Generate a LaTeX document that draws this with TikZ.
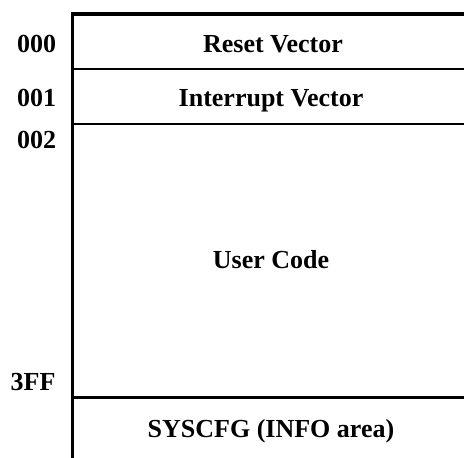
\documentclass[tikz,border=0pt]{standalone}
\usepackage{fontspec}
\setmainfont{Liberation Serif}
\begin{document}
\begin{tikzpicture}[x=1pt,y=-1pt,
  lbl/.style={anchor=base,inner sep=0pt,font=\fontsize{26}{30}\selectfont\bfseries},
  thick line/.style={line width=3.5pt},
  thin line/.style={line width=2pt}]
\useasboundingbox (0,0) rectangle (464,458);
\coordinate (vt) at (72.7,12);
\coordinate (vb) at (72.7,458);
\coordinate (t1) at (71,14);   \coordinate (t2) at (464,14);
\coordinate (a1) at (72.7,69.3); \coordinate (a2) at (464,69.3);
\coordinate (b1) at (72.7,123.8); \coordinate (b2) at (464,123.8);
\coordinate (c1) at (72.7,397.5); \coordinate (c2) at (464,397.5);
\draw[thick line] (t1) -- (t2);
\draw[thin line] (a1) -- (a2);
\draw[thin line] (b1) -- (b2);
\draw[thick line] (c1) -- (c2);
\draw[line width=3.3pt] (vt) -- (vb);
\node[lbl] (n0) at (36.7,52.5) {000};
\node[lbl] (n1) at (36.5,106) {001};
\node[lbl] (n2) at (36.5,148) {002};
\node[lbl] (n3) at (33,390) {3FF};
\node[lbl] (r) at (273,52.3) {Reset Vector};
\node[lbl] (i) at (271,106) {Interrupt Vector};
\node[lbl] (u) at (271,268.3) {User Code};
\node[lbl] (s) at (271,437) {SYSCFG (INFO area)};
\end{tikzpicture}
\end{document}
